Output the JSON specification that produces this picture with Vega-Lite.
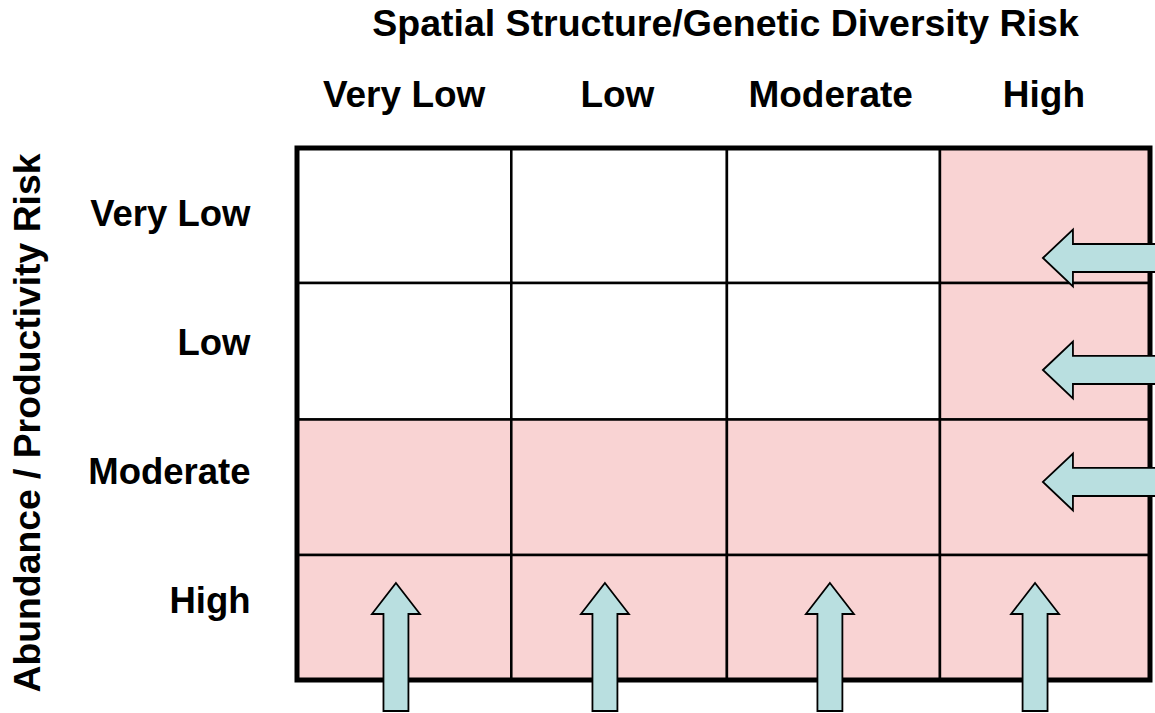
{
  "$schema": "https://vega.github.io/schema/vega-lite/v6.json",
  "width": 853,
  "height": 532,
  "autosize": {"type": "none"},
  "padding": {"left": 297, "top": 148, "right": 5, "bottom": 33},
  "background": "white",
  "config": {"view": {"stroke": null}, "font": "Liberation Sans"},
  "datasets": {
    "cells": [
      {"row": "Very Low", "col": "Very Low", "x": 0, "x2": 1.005, "y": 2.985, "y2": 4, "risk": "low"},
      {"row": "Very Low", "col": "Low", "x": 1.005, "x2": 2.016, "y": 2.985, "y2": 4, "risk": "low"},
      {"row": "Very Low", "col": "Moderate", "x": 2.016, "x2": 3.015, "y": 2.985, "y2": 4, "risk": "low"},
      {"row": "Very Low", "col": "High", "x": 3.015, "x2": 4, "y": 2.985, "y2": 4, "risk": "high"},
      {"row": "Low", "col": "Very Low", "x": 0, "x2": 1.005, "y": 1.959, "y2": 2.985, "risk": "low"},
      {"row": "Low", "col": "Low", "x": 1.005, "x2": 2.016, "y": 1.959, "y2": 2.985, "risk": "low"},
      {"row": "Low", "col": "Moderate", "x": 2.016, "x2": 3.015, "y": 1.959, "y2": 2.985, "risk": "low"},
      {"row": "Low", "col": "High", "x": 3.015, "x2": 4, "y": 1.959, "y2": 2.985, "risk": "high"},
      {"row": "Moderate", "col": "Very Low", "x": 0, "x2": 1.005, "y": 0.94, "y2": 1.959, "risk": "high"},
      {"row": "Moderate", "col": "Low", "x": 1.005, "x2": 2.016, "y": 0.94, "y2": 1.959, "risk": "high"},
      {"row": "Moderate", "col": "Moderate", "x": 2.016, "x2": 3.015, "y": 0.94, "y2": 1.959, "risk": "high"},
      {"row": "Moderate", "col": "High", "x": 3.015, "x2": 4, "y": 0.94, "y2": 1.959, "risk": "high"},
      {"row": "High", "col": "Very Low", "x": 0, "x2": 1.005, "y": 0, "y2": 0.94, "risk": "high"},
      {"row": "High", "col": "Low", "x": 1.005, "x2": 2.016, "y": 0, "y2": 0.94, "risk": "high"},
      {"row": "High", "col": "Moderate", "x": 2.016, "x2": 3.015, "y": 0, "y2": 0.94, "risk": "high"},
      {"row": "High", "col": "High", "x": 3.015, "x2": 4, "y": 0, "y2": 0.94, "risk": "high"}
    ],
    "frame": [{"x": 0, "x2": 4, "y": 0, "y2": 4}],
    "upArrows": [
      {"col": "Very Low", "x": 0.464, "y": 0.248},
      {"col": "Low", "x": 1.444, "y": 0.248},
      {"col": "Moderate", "x": 2.499, "y": 0.248},
      {"col": "High", "x": 3.461, "y": 0.248}
    ],
    "leftArrows": [
      {"row": "Very Low", "x": 3.798, "y": 3.173},
      {"row": "Low", "x": 3.798, "y": 2.331},
      {"row": "Moderate", "x": 3.798, "y": 1.489}
    ]
  },
  "encoding": {
    "x": {
      "field": "x", "type": "quantitative",
      "scale": {"domain": [0, 4], "nice": false, "zero": false},
      "axis": {
        "orient": "top",
        "values": [0.5, 1.5, 2.5, 3.5],
        "labelExpr": "['Very Low','Low','Moderate','High'][floor(datum.value)]",
        "grid": false, "domain": false, "ticks": false, "tickSize": 0,
        "labelPadding": 42, "labelBaseline": "alphabetic",
        "labelFont": "Liberation Sans", "labelFontSize": 37, "labelFontWeight": "bold", "labelColor": "black",
        "labelFlush": false, "labelOverlap": false, "labelBound": false,
        "title": "Spatial Structure/Genetic Diversity Risk",
        "titleFont": "Liberation Sans", "titleFontSize": 37.5, "titleFontWeight": "bold", "titleColor": "black",
        "titleX": 428, "titleY": -113, "titleBaseline": "alphabetic", "titleAlign": "center"
      }
    },
    "y": {
      "field": "y", "type": "quantitative",
      "scale": {"domain": [0, 4], "nice": false, "zero": false},
      "axis": {
        "orient": "left",
        "values": [3.421, 2.451, 1.481, 0.504],
        "labelExpr": "datum.value > 3 ? 'Very Low' : datum.value > 2 ? 'Low' : datum.value > 1 ? 'Moderate' : 'High'",
        "grid": false, "domain": false, "ticks": false, "tickSize": 0,
        "labelPadding": 47, "labelBaseline": "alphabetic", "labelAlign": "right",
        "labelFont": "Liberation Sans", "labelFontSize": 36.5, "labelFontWeight": "bold", "labelColor": "black",
        "labelFlush": false, "labelOverlap": false, "labelBound": false,
        "title": "Abundance / Productivity Risk",
        "titleFont": "Liberation Sans", "titleFontSize": 37.3, "titleFontWeight": "bold", "titleColor": "black",
        "titleAngle": 270,
        "titleX": -258, "titleY": 274.5, "titleBaseline": "alphabetic", "titleAlign": "center"
      }
    }
  },
  "layer": [
    {
      "data": {"name": "cells"},
      "mark": {"type": "rect", "stroke": "black", "strokeWidth": 2.5},
      "encoding": {
        "x2": {"field": "x2"},
        "y2": {"field": "y2"},
        "fill": {
          "field": "risk", "type": "nominal",
          "scale": {"domain": ["low", "high"], "range": ["#ffffff", "#f9d3d3"]},
          "legend": null
        }
      }
    },
    {
      "data": {"name": "frame"},
      "mark": {"type": "rect", "fillOpacity": 0, "stroke": "black", "strokeWidth": 5},
      "encoding": {
        "x2": {"field": "x2"},
        "y2": {"field": "y2"}
      }
    },
    {
      "data": {"name": "upArrows"},
      "mark": {
        "type": "point",
        "shape": "M0,-1L0.375,-0.516L0.195,-0.516L0.195,1L-0.195,1L-0.195,-0.516L-0.375,-0.516Z",
        "size": 16384, "filled": true, "fill": "#b9dfe0", "stroke": "black", "strokeWidth": 1.8,
        "opacity": 1, "fillOpacity": 1, "strokeOpacity": 1
      }
    },
    {
      "data": {"name": "leftArrows"},
      "mark": {
        "type": "point",
        "shape": "M-1,0L-0.531,-0.445L-0.531,-0.219L1,-0.219L1,0.219L-0.531,0.219L-0.531,0.445Z",
        "size": 16384, "filled": true, "fill": "#b9dfe0", "stroke": "black", "strokeWidth": 1.8,
        "opacity": 1, "fillOpacity": 1, "strokeOpacity": 1
      }
    }
  ]
}
